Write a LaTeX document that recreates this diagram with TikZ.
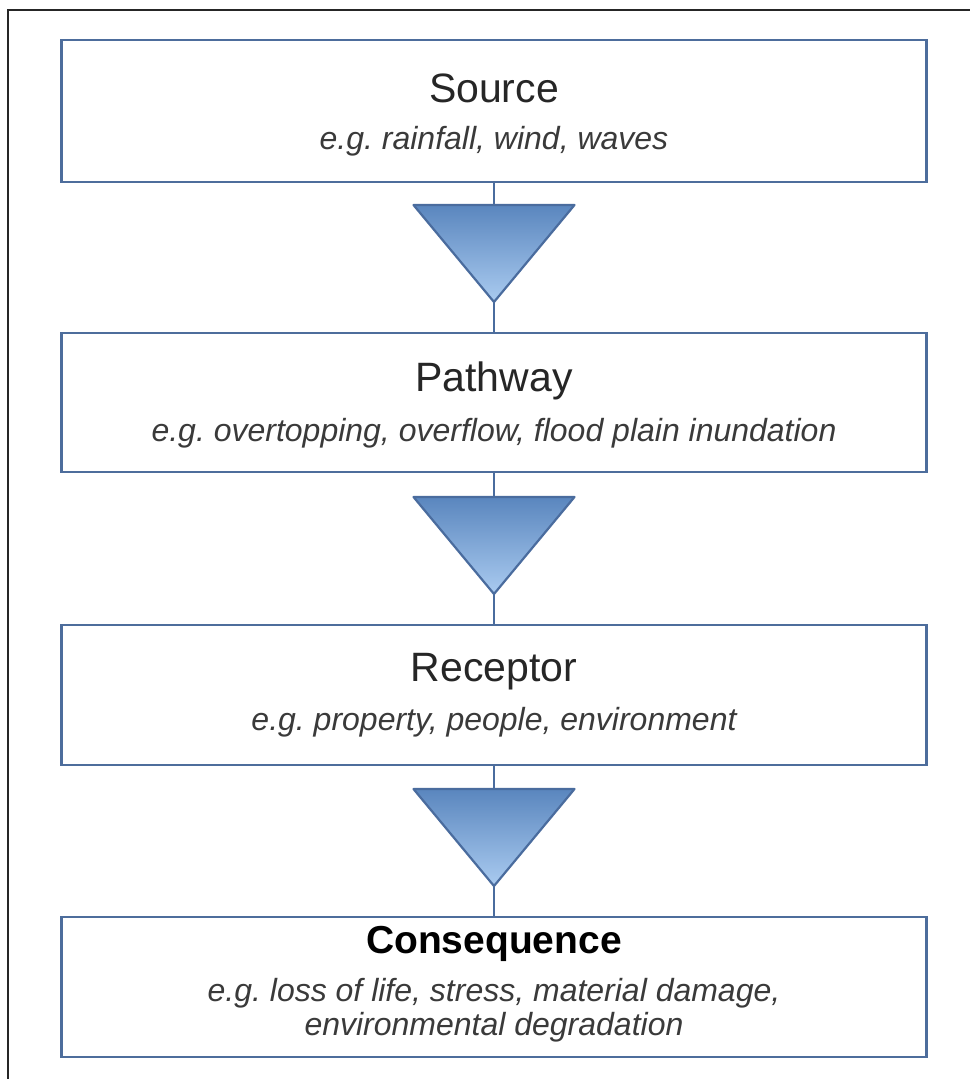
\documentclass[tikz,border=0pt]{standalone}
\usepackage{fontspec}
\setmainfont{Liberation Sans}
\definecolor{boxline}{HTML}{4D6D9C}
\definecolor{tritop}{HTML}{5A86BE}
\definecolor{tribot}{HTML}{AACBF0}
\definecolor{triline}{HTML}{4A6C9E}
\definecolor{subgray}{HTML}{3A3A3A}
\tikzset{
  stagebox/.style={draw=boxline, line width=2.8pt, fill=white, minimum width=865pt, inner sep=0pt},
  titletext/.style={font=\fontsize{41}{46}\selectfont, text=black!85, inner sep=0pt},
  subtext/.style={font=\fontsize{32}{34}\selectfont\itshape, text=subgray, inner sep=0pt, align=center},
  link/.style={draw=triline, line width=2.4pt},
  tri/.style={draw=triline, line width=2.2pt, line join=round, top color=tritop, bottom color=tribot}
}
\begin{document}
\begin{tikzpicture}[x=1pt,y=-1pt]
\useasboundingbox (0,0) rectangle (970,1079);
\fill[white] (0,0) rectangle (970,1079);
% outer frame
\draw[line width=2.4pt, black!85] (8,1079) -- (8,10) -- (970,10);

% boxes
\node[stagebox, minimum height=142pt] (b1) at (494,111) {};
\node[stagebox, minimum height=139pt] (b2) at (494,402.5) {};
\node[stagebox, minimum height=140pt] (b3) at (494,695) {};
\node[stagebox, minimum height=140pt] (b4) at (494,987) {};

% texts
\node[titletext] (t1) at (494,88) {Source};
\node[subtext] (s1) at (494,141) {e.g.\ rainfall, wind, waves};
\node[titletext] (t2) at (494,381) {Pathway};
\node[subtext] (s2) at (494,433) {e.g.\ overtopping, overflow, flood plain inundation};
\node[titletext] (t3) at (494,672) {Receptor};
\node[subtext] (s3) at (494,722) {e.g.\ property, people, environment};
\node[titletext, text=black, font=\fontsize{39}{44}\selectfont\bfseries] (t4) at (494,944) {Consequence};
\node[subtext] (s4) at (494,1010) {e.g.\ loss of life, stress, material damage,\\environmental degradation};

% triangles
\foreach \i/\ty/\ay in {1/205/302, 2/497/594, 3/789/886}{
  \coordinate (tt\i) at (494,\ty);
  \coordinate (ta\i) at (494,\ay);
  \path[tri] (413.5,\ty) -- (574.5,\ty) -- (ta\i) -- cycle;
}

% connectors
\draw[link] (b1.south) -- (tt1);
\draw[link] (ta1) -- (b2.north);
\draw[link] (b2.south) -- (tt2);
\draw[link] (ta2) -- (b3.north);
\draw[link] (b3.south) -- (tt3);
\draw[link] (ta3) -- (b4.north);
\end{tikzpicture}
\end{document}
